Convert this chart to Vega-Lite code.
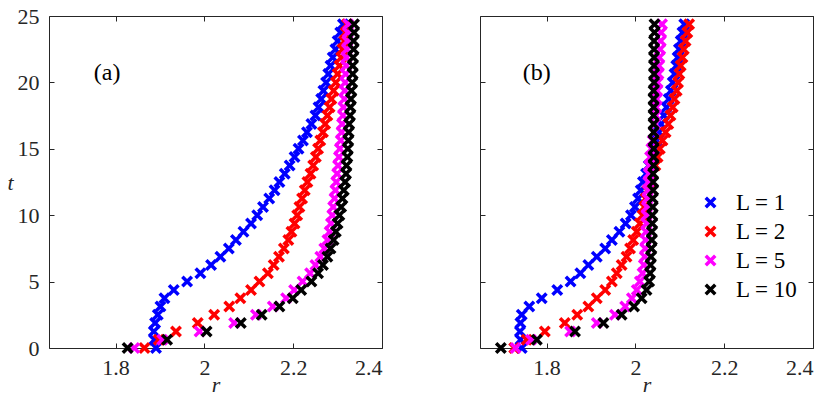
{
"$schema": "https://vega.github.io/schema/vega-lite/v6.json",
"padding": {"left": 6, "top": 4, "right": 5, "bottom": 2},
"config": {
  "font": "Liberation Serif",
  "view": {"stroke": "#262626", "strokeWidth": 1},
  "axis": {"grid": false, "domain": false, "tickSize": -5, "tickColor": "#262626", "tickWidth": 1,
    "labelFont": "Liberation Serif", "labelFontSize": 22, "labelColor": "#262626",
    "titleFont": "Liberation Serif", "titleFontSize": 22, "titleFontStyle": "italic", "titleFontWeight": "normal", "titleColor": "#262626"}
},
"datasets": {
"a": [
{"L":1,"t":0,"r":1.891},{"L":1,"t":0.625,"r":1.887},{"L":1,"t":1.25,"r":1.886},{"L":1,"t":1.875,"r":1.889},{"L":1,"t":2.5,"r":1.895},{"L":1,"t":3.125,"r":1.901},{"L":1,"t":3.75,"r":1.910},{"L":1,"t":4.375,"r":1.931},{"L":1,"t":5,"r":1.961},{"L":1,"t":5.625,"r":1.991},{"L":1,"t":6.25,"r":2.015},{"L":1,"t":6.875,"r":2.036},{"L":1,"t":7.5,"r":2.055},{"L":1,"t":8.125,"r":2.071},{"L":1,"t":8.75,"r":2.088},{"L":1,"t":9.375,"r":2.105},{"L":1,"t":10,"r":2.119},{"L":1,"t":10.625,"r":2.132},{"L":1,"t":11.25,"r":2.146},{"L":1,"t":11.875,"r":2.158},{"L":1,"t":12.5,"r":2.169},{"L":1,"t":13.125,"r":2.181},{"L":1,"t":13.75,"r":2.192},{"L":1,"t":14.375,"r":2.203},{"L":1,"t":15,"r":2.212},{"L":1,"t":15.625,"r":2.222},{"L":1,"t":16.25,"r":2.231},{"L":1,"t":16.875,"r":2.241},{"L":1,"t":17.5,"r":2.250},{"L":1,"t":18.125,"r":2.257},{"L":1,"t":18.75,"r":2.263},{"L":1,"t":19.375,"r":2.268},{"L":1,"t":20,"r":2.274},{"L":1,"t":20.625,"r":2.279},{"L":1,"t":21.25,"r":2.284},{"L":1,"t":21.875,"r":2.289},{"L":1,"t":22.5,"r":2.295},{"L":1,"t":23.125,"r":2.300},{"L":1,"t":23.75,"r":2.306},{"L":1,"t":24.375,"r":2.312},
{"L":2,"t":0,"r":1.865},{"L":2,"t":0.625,"r":1.897},{"L":2,"t":1.25,"r":1.936},{"L":2,"t":1.875,"r":1.985},{"L":2,"t":2.5,"r":2.022},{"L":2,"t":3.125,"r":2.056},{"L":2,"t":3.75,"r":2.081},{"L":2,"t":4.375,"r":2.105},{"L":2,"t":5,"r":2.124},{"L":2,"t":5.625,"r":2.143},{"L":2,"t":6.25,"r":2.156},{"L":2,"t":6.875,"r":2.168},{"L":2,"t":7.5,"r":2.179},{"L":2,"t":8.125,"r":2.189},{"L":2,"t":8.75,"r":2.196},{"L":2,"t":9.375,"r":2.203},{"L":2,"t":10,"r":2.209},{"L":2,"t":10.625,"r":2.214},{"L":2,"t":11.25,"r":2.220},{"L":2,"t":11.875,"r":2.226},{"L":2,"t":12.5,"r":2.232},{"L":2,"t":13.125,"r":2.239},{"L":2,"t":13.75,"r":2.245},{"L":2,"t":14.375,"r":2.251},{"L":2,"t":15,"r":2.256},{"L":2,"t":15.625,"r":2.261},{"L":2,"t":16.25,"r":2.267},{"L":2,"t":16.875,"r":2.272},{"L":2,"t":17.5,"r":2.277},{"L":2,"t":18.125,"r":2.282},{"L":2,"t":18.75,"r":2.286},{"L":2,"t":19.375,"r":2.291},{"L":2,"t":20,"r":2.296},{"L":2,"t":20.625,"r":2.300},{"L":2,"t":21.25,"r":2.304},{"L":2,"t":21.875,"r":2.308},{"L":2,"t":22.5,"r":2.311},{"L":2,"t":23.125,"r":2.315},{"L":2,"t":23.75,"r":2.318},{"L":2,"t":24.375,"r":2.321},
{"L":5,"t":0,"r":1.842},{"L":5,"t":0.625,"r":1.905},{"L":5,"t":1.25,"r":1.989},{"L":5,"t":1.875,"r":2.067},{"L":5,"t":2.5,"r":2.116},{"L":5,"t":3.125,"r":2.154},{"L":5,"t":3.75,"r":2.184},{"L":5,"t":4.375,"r":2.202},{"L":5,"t":5,"r":2.221},{"L":5,"t":5.625,"r":2.238},{"L":5,"t":6.25,"r":2.250},{"L":5,"t":6.875,"r":2.261},{"L":5,"t":7.5,"r":2.270},{"L":5,"t":8.125,"r":2.277},{"L":5,"t":8.75,"r":2.282},{"L":5,"t":9.375,"r":2.285},{"L":5,"t":10,"r":2.288},{"L":5,"t":10.625,"r":2.290},{"L":5,"t":11.25,"r":2.293},{"L":5,"t":11.875,"r":2.295},{"L":5,"t":12.5,"r":2.297},{"L":5,"t":13.125,"r":2.299},{"L":5,"t":13.75,"r":2.301},{"L":5,"t":14.375,"r":2.303},{"L":5,"t":15,"r":2.305},{"L":5,"t":15.625,"r":2.307},{"L":5,"t":16.25,"r":2.309},{"L":5,"t":16.875,"r":2.310},{"L":5,"t":17.5,"r":2.312},{"L":5,"t":18.125,"r":2.313},{"L":5,"t":18.75,"r":2.315},{"L":5,"t":19.375,"r":2.316},{"L":5,"t":20,"r":2.317},{"L":5,"t":20.625,"r":2.318},{"L":5,"t":21.25,"r":2.319},{"L":5,"t":21.875,"r":2.320},{"L":5,"t":22.5,"r":2.321},{"L":5,"t":23.125,"r":2.322},{"L":5,"t":23.75,"r":2.323},{"L":5,"t":24.375,"r":2.324},
{"L":10,"t":0,"r":1.827},{"L":10,"t":0.625,"r":1.916},{"L":10,"t":1.25,"r":2.005},{"L":10,"t":1.875,"r":2.082},{"L":10,"t":2.5,"r":2.129},{"L":10,"t":3.125,"r":2.169},{"L":10,"t":3.75,"r":2.199},{"L":10,"t":4.375,"r":2.218},{"L":10,"t":5,"r":2.241},{"L":10,"t":5.625,"r":2.256},{"L":10,"t":6.25,"r":2.267},{"L":10,"t":6.875,"r":2.277},{"L":10,"t":7.5,"r":2.284},{"L":10,"t":8.125,"r":2.291},{"L":10,"t":8.75,"r":2.296},{"L":10,"t":9.375,"r":2.300},{"L":10,"t":10,"r":2.304},{"L":10,"t":10.625,"r":2.308},{"L":10,"t":11.25,"r":2.311},{"L":10,"t":11.875,"r":2.314},{"L":10,"t":12.5,"r":2.317},{"L":10,"t":13.125,"r":2.319},{"L":10,"t":13.75,"r":2.320},{"L":10,"t":14.375,"r":2.322},{"L":10,"t":15,"r":2.323},{"L":10,"t":15.625,"r":2.324},{"L":10,"t":16.25,"r":2.325},{"L":10,"t":16.875,"r":2.326},{"L":10,"t":17.5,"r":2.328},{"L":10,"t":18.125,"r":2.329},{"L":10,"t":18.75,"r":2.330},{"L":10,"t":19.375,"r":2.331},{"L":10,"t":20,"r":2.333},{"L":10,"t":20.625,"r":2.334},{"L":10,"t":21.25,"r":2.334},{"L":10,"t":21.875,"r":2.335},{"L":10,"t":22.5,"r":2.336},{"L":10,"t":23.125,"r":2.336},{"L":10,"t":23.75,"r":2.337},{"L":10,"t":24.375,"r":2.337}
],
"b": [
{"L":1,"t":0,"r":1.744},{"L":1,"t":0.625,"r":1.741},{"L":1,"t":1.25,"r":1.740},{"L":1,"t":1.875,"r":1.741},{"L":1,"t":2.5,"r":1.744},{"L":1,"t":3.125,"r":1.761},{"L":1,"t":3.75,"r":1.789},{"L":1,"t":4.375,"r":1.824},{"L":1,"t":5,"r":1.854},{"L":1,"t":5.625,"r":1.876},{"L":1,"t":6.25,"r":1.894},{"L":1,"t":6.875,"r":1.913},{"L":1,"t":7.5,"r":1.932},{"L":1,"t":8.125,"r":1.947},{"L":1,"t":8.75,"r":1.964},{"L":1,"t":9.375,"r":1.978},{"L":1,"t":10,"r":1.990},{"L":1,"t":10.625,"r":1.999},{"L":1,"t":11.25,"r":2.006},{"L":1,"t":11.875,"r":2.012},{"L":1,"t":12.5,"r":2.017},{"L":1,"t":13.125,"r":2.024},{"L":1,"t":13.75,"r":2.030},{"L":1,"t":14.375,"r":2.037},{"L":1,"t":15,"r":2.043},{"L":1,"t":15.625,"r":2.048},{"L":1,"t":16.25,"r":2.053},{"L":1,"t":16.875,"r":2.058},{"L":1,"t":17.5,"r":2.064},{"L":1,"t":18.125,"r":2.070},{"L":1,"t":18.75,"r":2.075},{"L":1,"t":19.375,"r":2.080},{"L":1,"t":20,"r":2.084},{"L":1,"t":20.625,"r":2.088},{"L":1,"t":21.25,"r":2.092},{"L":1,"t":21.875,"r":2.095},{"L":1,"t":22.5,"r":2.098},{"L":1,"t":23.125,"r":2.102},{"L":1,"t":23.75,"r":2.106},{"L":1,"t":24.375,"r":2.110},
{"L":2,"t":0,"r":1.727},{"L":2,"t":0.625,"r":1.755},{"L":2,"t":1.25,"r":1.796},{"L":2,"t":1.875,"r":1.841},{"L":2,"t":2.5,"r":1.869},{"L":2,"t":3.125,"r":1.894},{"L":2,"t":3.75,"r":1.913},{"L":2,"t":4.375,"r":1.932},{"L":2,"t":5,"r":1.947},{"L":2,"t":5.625,"r":1.958},{"L":2,"t":6.25,"r":1.969},{"L":2,"t":6.875,"r":1.980},{"L":2,"t":7.5,"r":1.988},{"L":2,"t":8.125,"r":1.995},{"L":2,"t":8.75,"r":2.003},{"L":2,"t":9.375,"r":2.010},{"L":2,"t":10,"r":2.016},{"L":2,"t":10.625,"r":2.020},{"L":2,"t":11.25,"r":2.023},{"L":2,"t":11.875,"r":2.027},{"L":2,"t":12.5,"r":2.033},{"L":2,"t":13.125,"r":2.039},{"L":2,"t":13.75,"r":2.045},{"L":2,"t":14.375,"r":2.050},{"L":2,"t":15,"r":2.055},{"L":2,"t":15.625,"r":2.061},{"L":2,"t":16.25,"r":2.068},{"L":2,"t":16.875,"r":2.074},{"L":2,"t":17.5,"r":2.079},{"L":2,"t":18.125,"r":2.084},{"L":2,"t":18.75,"r":2.088},{"L":2,"t":19.375,"r":2.093},{"L":2,"t":20,"r":2.096},{"L":2,"t":20.625,"r":2.099},{"L":2,"t":21.25,"r":2.102},{"L":2,"t":21.875,"r":2.106},{"L":2,"t":22.5,"r":2.109},{"L":2,"t":23.125,"r":2.113},{"L":2,"t":23.75,"r":2.117},{"L":2,"t":24.375,"r":2.121},
{"L":5,"t":0,"r":1.730},{"L":5,"t":0.625,"r":1.765},{"L":5,"t":1.25,"r":1.853},{"L":5,"t":1.875,"r":1.913},{"L":5,"t":2.5,"r":1.954},{"L":5,"t":3.125,"r":1.977},{"L":5,"t":3.75,"r":1.992},{"L":5,"t":4.375,"r":2.003},{"L":5,"t":5,"r":2.010},{"L":5,"t":5.625,"r":2.016},{"L":5,"t":6.25,"r":2.019},{"L":5,"t":6.875,"r":2.021},{"L":5,"t":7.5,"r":2.022},{"L":5,"t":8.125,"r":2.023},{"L":5,"t":8.75,"r":2.024},{"L":5,"t":9.375,"r":2.025},{"L":5,"t":10,"r":2.025},{"L":5,"t":10.625,"r":2.026},{"L":5,"t":11.25,"r":2.027},{"L":5,"t":11.875,"r":2.028},{"L":5,"t":12.5,"r":2.029},{"L":5,"t":13.125,"r":2.030},{"L":5,"t":13.75,"r":2.031},{"L":5,"t":14.375,"r":2.033},{"L":5,"t":15,"r":2.036},{"L":5,"t":15.625,"r":2.039},{"L":5,"t":16.25,"r":2.042},{"L":5,"t":16.875,"r":2.044},{"L":5,"t":17.5,"r":2.046},{"L":5,"t":18.125,"r":2.047},{"L":5,"t":18.75,"r":2.048},{"L":5,"t":19.375,"r":2.049},{"L":5,"t":20,"r":2.050},{"L":5,"t":20.625,"r":2.052},{"L":5,"t":21.25,"r":2.053},{"L":5,"t":21.875,"r":2.054},{"L":5,"t":22.5,"r":2.056},{"L":5,"t":23.125,"r":2.057},{"L":5,"t":23.75,"r":2.058},{"L":5,"t":24.375,"r":2.060},
{"L":10,"t":0,"r":1.697},{"L":10,"t":0.625,"r":1.778},{"L":10,"t":1.25,"r":1.864},{"L":10,"t":1.875,"r":1.928},{"L":10,"t":2.5,"r":1.969},{"L":10,"t":3.125,"r":1.997},{"L":10,"t":3.75,"r":2.014},{"L":10,"t":4.375,"r":2.025},{"L":10,"t":5,"r":2.031},{"L":10,"t":5.625,"r":2.033},{"L":10,"t":6.25,"r":2.034},{"L":10,"t":6.875,"r":2.035},{"L":10,"t":7.5,"r":2.036},{"L":10,"t":8.125,"r":2.037},{"L":10,"t":8.75,"r":2.037},{"L":10,"t":9.375,"r":2.038},{"L":10,"t":10,"r":2.038},{"L":10,"t":10.625,"r":2.039},{"L":10,"t":11.25,"r":2.039},{"L":10,"t":11.875,"r":2.040},{"L":10,"t":12.5,"r":2.040},{"L":10,"t":13.125,"r":2.040},{"L":10,"t":13.75,"r":2.041},{"L":10,"t":14.375,"r":2.041},{"L":10,"t":15,"r":2.041},{"L":10,"t":15.625,"r":2.041},{"L":10,"t":16.25,"r":2.041},{"L":10,"t":16.875,"r":2.041},{"L":10,"t":17.5,"r":2.041},{"L":10,"t":18.125,"r":2.041},{"L":10,"t":18.75,"r":2.041},{"L":10,"t":19.375,"r":2.041},{"L":10,"t":20,"r":2.042},{"L":10,"t":20.625,"r":2.042},{"L":10,"t":21.25,"r":2.042},{"L":10,"t":21.875,"r":2.042},{"L":10,"t":22.5,"r":2.042},{"L":10,"t":23.125,"r":2.042},{"L":10,"t":23.75,"r":2.043},{"L":10,"t":24.375,"r":2.043}
]
},
"spacing": 96,
"resolve": {"scale": {"color": "independent"}, "legend": {"color": "independent"}},
"hconcat": [
{
  "width": 333, "height": 332,
  "layer": [
    {"data": {"name": "a"},
     "mark": {"type": "point", "shape": "M-1,-1L1,1M1,-1L-1,1", "filled": false, "strokeWidth": 3.5, "size": 90, "opacity": 1},
     "encoding": {
       "x": {"field": "r", "type": "quantitative", "scale": {"domain": [1.65, 2.4], "nice": false, "zero": false},
             "axis": {"values": [1.8, 2, 2.2, 2.4], "format": "~g", "title": "r", "labelPadding": 14, "titlePadding": -4}},
       "y": {"field": "t", "type": "quantitative", "scale": {"domain": [0, 25], "nice": false},
             "axis": {"values": [0, 5, 10, 15, 20, 25], "title": "t", "titleAngle": 0, "titleBaseline": "middle", "titleAlign": "right", "labelPadding": 15, "titlePadding": 4}},
       "color": {"field": "L", "type": "ordinal", "scale": {"domain": [1, 2, 5, 10], "range": ["#0000ff", "#ff0000", "#ff00ff", "#000000"]}, "legend": null}
     }},
    {"data": {"name": "a"},
     "mark": {"type": "point", "opacity": 0},
     "encoding": {
       "x": {"field": "r", "type": "quantitative", "axis": {"orient": "top", "values": [1.8, 2, 2.2, 2.4], "labels": false, "title": null}},
       "y": {"field": "t", "type": "quantitative", "axis": {"orient": "right", "values": [0, 5, 10, 15, 20, 25], "labels": false, "title": null}}
     }},
    {"data": {"values": [{"txt": "(a)", "r": 1.781, "t": 20.7}]},
     "mark": {"type": "text", "fontSize": 24, "font": "Liberation Serif", "color": "#000000"},
     "encoding": {
       "x": {"field": "r", "type": "quantitative", "axis": null},
       "y": {"field": "t", "type": "quantitative", "axis": null},
       "text": {"field": "txt"}
     }}
  ],
  "resolve": {"axis": {"x": "independent", "y": "independent"}}
},
{
  "width": 333, "height": 332,
  "layer": [
    {"data": {"name": "b"},
     "mark": {"type": "point", "shape": "M-1,-1L1,1M1,-1L-1,1", "filled": false, "strokeWidth": 3.5, "size": 90, "opacity": 1},
     "encoding": {
       "x": {"field": "r", "type": "quantitative", "scale": {"domain": [1.65, 2.4], "nice": false, "zero": false},
             "axis": {"values": [1.8, 2, 2.2, 2.4], "format": "~g", "title": "r", "labelPadding": 14, "titlePadding": -4}},
       "y": {"field": "t", "type": "quantitative", "scale": {"domain": [0, 25], "nice": false},
             "axis": {"values": [0, 5, 10, 15, 20, 25], "labels": false, "title": null}},
       "color": {"field": "L", "type": "ordinal", "scale": {"domain": [1, 2, 5, 10], "range": ["#0000ff", "#ff0000", "#ff00ff", "#000000"]},
         "legend": {"orient": "none", "legendX": 219, "legendY": 175, "title": null, "padding": 0,
           "labelExpr": "'L = ' + datum.label", "labelFont": "Liberation Serif", "labelFontSize": 23, "labelColor": "#000000",
           "symbolType": "M-1,-1L1,1M1,-1L-1,1", "symbolStrokeWidth": 3.5, "symbolSize": 90, "symbolFillColor": "transparent",
           "labelOffset": 14, "rowPadding": 4}}
     }},
    {"data": {"name": "b"},
     "mark": {"type": "point", "opacity": 0},
     "encoding": {
       "x": {"field": "r", "type": "quantitative", "axis": {"orient": "top", "values": [1.8, 2, 2.2, 2.4], "labels": false, "title": null}},
       "y": {"field": "t", "type": "quantitative", "axis": {"orient": "right", "values": [0, 5, 10, 15, 20, 25], "labels": false, "title": null}}
     }},
    {"data": {"values": [{"txt": "(b)", "r": 1.778, "t": 20.7}]},
     "mark": {"type": "text", "fontSize": 24, "font": "Liberation Serif", "color": "#000000"},
     "encoding": {
       "x": {"field": "r", "type": "quantitative", "axis": null},
       "y": {"field": "t", "type": "quantitative", "axis": null},
       "text": {"field": "txt"}
     }}
  ],
  "resolve": {"axis": {"x": "independent", "y": "independent"}}
}
]
}
